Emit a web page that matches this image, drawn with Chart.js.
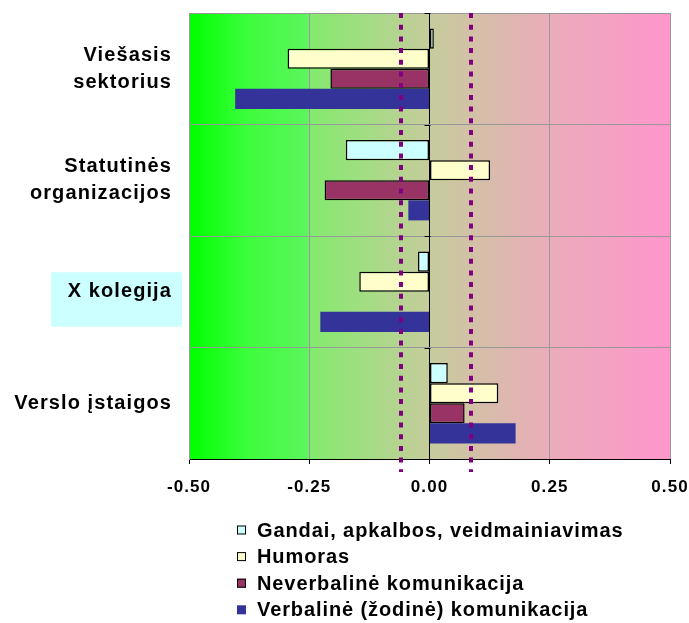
<!DOCTYPE html>
<html>
<head>
<meta charset="utf-8">
<style>
  html, body { margin: 0; padding: 0; background: #ffffff; }
  #wrap { width: 689px; height: 623px; }
</style>
</head>
<body>
<div id="wrap"><canvas id="c" width="689" height="623"></canvas></div>
<script src="https://cdn.jsdelivr.net/npm/chart.js@4/dist/chart.umd.min.js"></script>
<script>
// Organisation groups (top to bottom)
const categories = [['Viešasis', 'sektorius'], ['Statutinės', 'organizacijos'], 'X kolegija', 'Verslo įstaigos'];

// Communication channel scores per group
const gandai      = [0.009, -0.174, -0.024, 0.038];
const humoras     = [-0.295, 0.126, -0.146, 0.143];
const neverbaline = [-0.206, -0.218, 0.000, 0.073];
const verbaline   = [-0.404, -0.044, -0.227, 0.179];

const seriesNames = [
  'Gandai, apkalbos, veidmainiavimas',
  'Humoras',
  'Neverbalinė komunikacija',
  'Verbalinė (žodinė) komunikacija'
];

// Dotted boundary lines across the plot
const boundaryLines = [-0.059, 0.087];

// Axis ticks
const xTicks = [-0.5, -0.25, 0, 0.25, 0.5];

// Group whose label is highlighted
const highlightedGroup = 2;

const FONT = '"Liberation Sans", Arial, Helvetica, sans-serif';
const SPACING = '1.1px';

const letterSpacing = {
  id: 'letterSpacing',
  beforeLayout(chart) { chart.ctx.letterSpacing = SPACING; },
  beforeDraw(chart) { chart.ctx.letterSpacing = SPACING; }
};

const plotBackground = {
  id: 'plotBackground',
  beforeDraw(chart) {
    const { ctx, chartArea: a } = chart;
    ctx.save();
    const g = ctx.createLinearGradient(a.left, 0, a.right, 0);
    g.addColorStop(0.00, '#00ff00');
    g.addColorStop(0.12, '#3cfd3c');
    g.addColorStop(0.245, '#5cf55c');
    g.addColorStop(0.255, '#84ea6e');
    g.addColorStop(0.50, '#c6cc9c');
    g.addColorStop(0.75, '#eaacba');
    g.addColorStop(1.00, '#ff96cc');
    ctx.fillStyle = g;
    ctx.fillRect(a.left, a.top, a.right - a.left, a.bottom - a.top);

    // highlight box behind one group label
    const ys = chart.scales.y;
    const cy = ys.getPixelForValue(highlightedGroup);
    ctx.fillStyle = '#ccffff';
    ctx.fillRect(51, cy - 19.5, a.left - 7 - 51, 54.5);
    ctx.restore();
  }
};

const zeroAxisTicks = {
  id: 'zeroAxisTicks',
  afterDatasetsDraw(chart) {
    const { ctx, chartArea: a } = chart;
    const xs = chart.scales.x;
    const x0 = Math.round(xs.getPixelForValue(0)) + 0.5;
    const band = (a.bottom - a.top) / categories.length;
    ctx.save();
    ctx.strokeStyle = '#000000';
    ctx.lineWidth = 1;
    ctx.beginPath();
    for (let i = 0; i <= categories.length; i++) {
      const y = Math.round(a.top + i * band) + 0.5;
      ctx.moveTo(x0 - 6, y);
      ctx.lineTo(x0, y);
    }
    ctx.stroke();

    // dotted boundary lines
    ctx.strokeStyle = '#800080';
    ctx.lineWidth = 4;
    ctx.setLineDash([5, 6.7]);
    boundaryLines.forEach(v => {
      const x = Math.round(xs.getPixelForValue(v));
      ctx.beginPath();
      ctx.moveTo(x, a.top);
      ctx.lineTo(x, a.bottom + 13);
      ctx.stroke();
    });
    ctx.restore();
  }
};

const sideLegend = {
  id: 'sideLegend',
  afterDraw(chart) {
    const { ctx, chartArea: a } = chart;
    const x0 = 237, y0 = a.bottom + 71, step = 26.6;
    ctx.save();
    ctx.letterSpacing = '0.9px';
    ctx.font = 'bold 20px ' + FONT;
    ctx.textBaseline = 'middle';
    ctx.textAlign = 'left';
    chart.data.datasets.forEach((ds, i) => {
      const y = y0 + i * step;
      ctx.fillStyle = ds.backgroundColor;
      ctx.fillRect(x0, y - 4.5, 9, 9);
      if (ds.borderWidth) {
        ctx.strokeStyle = '#000000';
        ctx.lineWidth = 1;
        ctx.strokeRect(x0 + 0.5, y - 4, 8, 8);
      }
      ctx.fillStyle = '#000000';
      ctx.fillText(ds.label, x0 + 20, y + 1);
    });
    ctx.restore();
  }
};

const barStyle = { borderColor: '#000000', borderWidth: 1.5, borderSkipped: false, categoryPercentage: 0.72, barPercentage: 1.0 };

new Chart(document.getElementById('c'), {
  type: 'bar',
  data: {
    labels: categories,
    datasets: [
      { label: seriesNames[0], data: gandai,      backgroundColor: '#ccffff', ...barStyle },
      { label: seriesNames[1], data: humoras,     backgroundColor: '#ffffcc', ...barStyle },
      { label: seriesNames[2], data: neverbaline, backgroundColor: '#993366', ...barStyle },
      { label: seriesNames[3], data: verbaline,   backgroundColor: '#333399', ...barStyle, borderWidth: 0 }
    ]
  },
  options: {
    indexAxis: 'y',
    responsive: false,
    animation: false,
    devicePixelRatio: 1,
    layout: { padding: { top: 13, right: 19, bottom: 0, left: 0 } },
    plugins: { legend: { display: false }, tooltip: { enabled: false } },
    scales: {
      x: {
        type: 'linear',
        min: -0.5,
        max: 0.5,
        afterBuildTicks(scale) { scale.ticks = xTicks.map(v => ({ value: v })); },
        afterFit(scale) { scale.height = 164; scale.paddingLeft = 0; scale.paddingRight = 0; },
        grid: {
          color: c => (c.tick && c.tick.value === 0 ? '#000000' : '#999999'),
          tickColor: '#000000',
          tickLength: 5,
          lineWidth: 1
        },
        border: { display: true, color: '#000000', width: 1 },
        ticks: {
          color: '#000000',
          padding: 13,
          font: { family: FONT, size: 17, weight: 'bold' },
          callback: v => Number(v).toFixed(2)
        }
      },
      y: {
        afterFit(scale) { scale.width = 189; scale.paddingTop = 0; scale.paddingBottom = 0; },
        grid: { color: '#999999', drawTicks: false, offset: true },
        border: { display: true, color: '#999999' },
        ticks: {
          color: '#000000',
          padding: 17,
          crossAlign: 'near',
          font: { family: FONT, size: 20, weight: 'bold', lineHeight: 1.35 }
        }
      }
    }
  },
  plugins: [letterSpacing, plotBackground, zeroAxisTicks, sideLegend]
});
</script>
</body>
</html>
